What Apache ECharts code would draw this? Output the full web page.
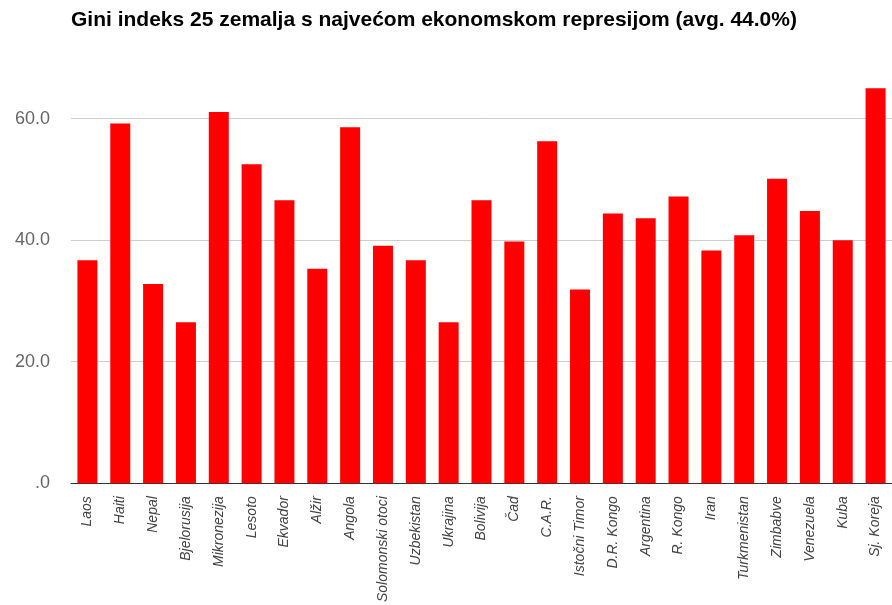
<!DOCTYPE html>
<html>
<head>
<meta charset="utf-8">
<script src="https://cdn.jsdelivr.net/npm/echarts@6/dist/echarts.min.js"></script>
<style>
  html, body { margin: 0; padding: 0; background: #fff; }
  #chart { width: 892px; height: 605px; }
</style>
</head>
<body>
<div id="chart"></div>
<script>
// podaci
const countries = ['Laos', 'Haiti', 'Nepal', 'Bjelorusija', 'Mikronezija', 'Lesoto', 'Ekvador', 'Alžir',
  'Angola', 'Solomonski otoci', 'Uzbekistan', 'Ukrajina', 'Bolivija', 'Čad', 'C.A.R.', 'Istočni Timor',
  'D.R. Kongo', 'Argentina', 'R. Kongo', 'Iran', 'Turkmenistan', 'Zimbabve', 'Venezuela', 'Kuba', 'Sj. Koreja']
const giniValues = [36.7, 59.2, 32.8, 26.5, 61.1, 52.5, 46.6, 35.3,
  58.6, 39.1, 36.7, 26.5, 46.6, 39.8, 56.3, 31.9,
  44.4, 43.6, 47.2, 38.3, 40.8, 50.1, 44.8, 40.0, 65.0]
const yTicks = [0, 20, 40, 60]

const chart = echarts.init(document.getElementById('chart'))

chart.setOption({
  animation: false,
  title: {
    text: 'Gini indeks 25 zemalja s najvećom ekonomskom represijom (avg. 44.0%)',
    left: 66,
    top: 5,
    textStyle: {
      fontFamily: 'Liberation Sans',
      fontSize: 21,
      fontWeight: 'bold',
      color: '#000'
    }
  },
  grid: {
    left: 71,
    right: -3,
    top: 58,
    bottom: 121
  },
  xAxis: {
    type: 'category',
    data: countries,
    axisTick: { show: false },
    axisLine: { lineStyle: { color: '#333', width: 1 } },
    axisLabel: {
      rotate: 90,
      interval: 0,
      margin: 13,
      fontFamily: 'Liberation Sans',
      fontStyle: 'italic',
      fontSize: 14,
      color: '#444'
    }
  },
  yAxis: {
    type: 'value',
    min: 0,
    max: 70,
    interval: 20,
    axisLine: { show: false },
    axisTick: { show: false },
    splitLine: {
      lineStyle: { color: ['#ccc', '#ccc', '#ccc', '#ccc', 'rgba(0,0,0,0)'] }
    },
    axisLabel: {
      margin: 21,
      fontFamily: 'Liberation Sans',
      fontSize: 18,
      color: '#666',
      formatter: (v) => (yTicks.indexOf(v) < 0 ? '' : (v === 0 ? '.0' : v.toFixed(1)))
    }
  },
  series: [
    {
      type: 'bar',
      data: giniValues,
      barWidth: 20,
      itemStyle: { color: '#ff0000' }
    }
  ]
})
</script>
</body>
</html>
